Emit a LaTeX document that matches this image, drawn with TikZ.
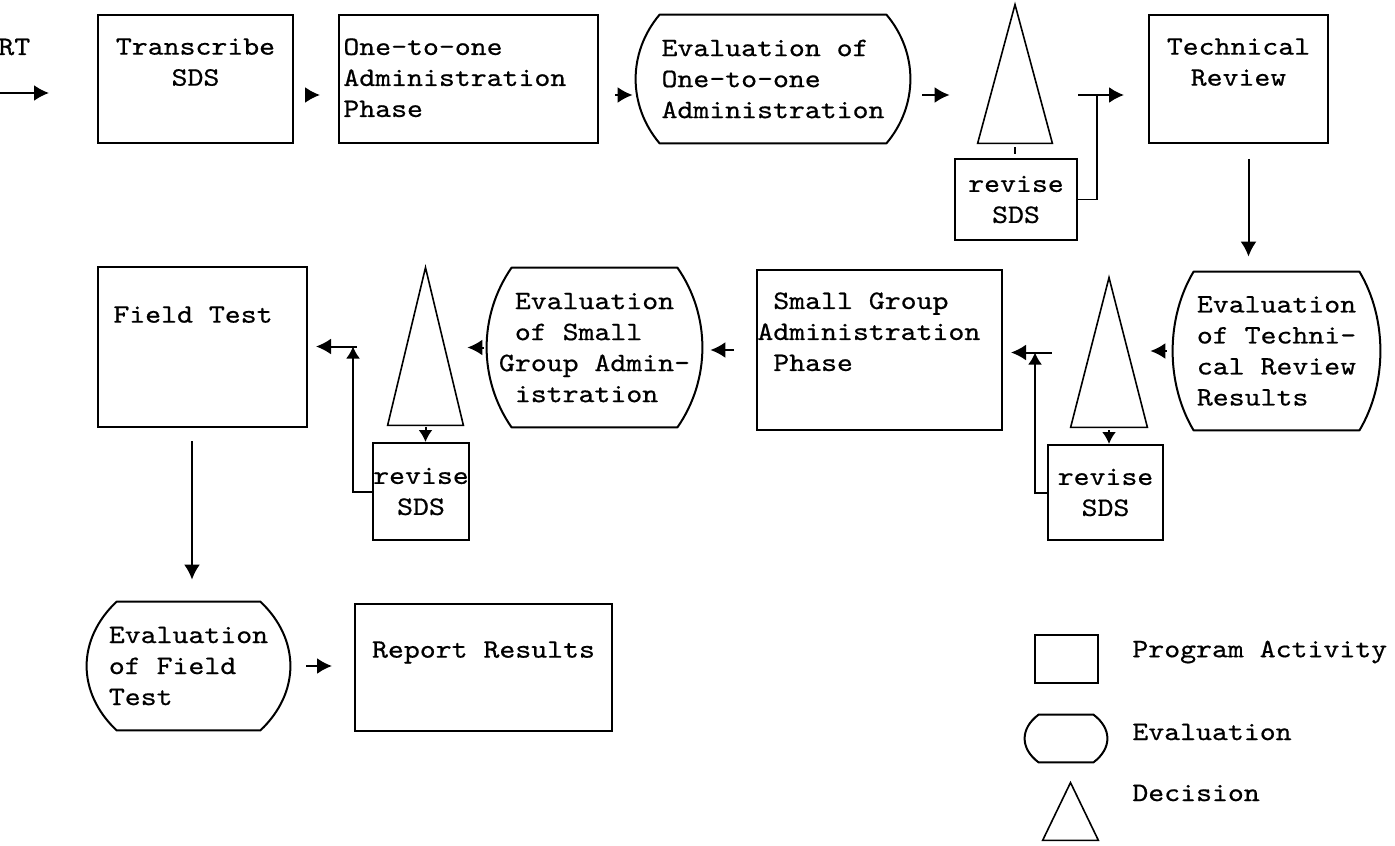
\documentclass[tikz,border=0pt]{standalone}
\usepackage{fontspec}
\setmonofont{lmmono10-regular}[Extension=.otf,FakeStretch=1.14,FakeBold=0.6]
\usetikzlibrary{positioning,arrows.meta}
\newcommand{\twfont}{\ttfamily\fontsize{13.3}{15.5}\selectfont}

\begin{document}
\begin{tikzpicture}[x=0.5pt, y=-0.5pt,
    box/.style={draw, line width=1pt, inner sep=0pt},
    rev/.style={draw, line width=1pt, inner sep=0pt, font=\twfont, align=center},
    eval/.style={inner sep=0pt, font=\twfont, align=left},
    dec/.style={inner sep=0pt},
    txt/.style={inner sep=0pt, font=\twfont},
    frame/.style={line width=1pt, line join=round},
    tri/.style={line width=0.8pt},
    arr/.style={-{Latex[length=7.5pt,width=8pt]}, line width=1pt},
    sarr/.style={-{Latex[length=6pt,width=7pt]}, line width=1pt}]
  \useasboundingbox (0,0) rectangle (1395,845);

  % first row
  \node[txt, anchor=west] (start) at (-2,47) {RT};
  \coordinate (s0) at (0,93);
  \coordinate (s1) at (49,93);
  \node[box, minimum width=97.5pt, minimum height=64pt] (b1) at (195.5,79) {};
  \node[txt, align=center, below=12pt of b1.north] (b1t) {Transcribe\\SDS};
  \node[box, minimum width=129.5pt, minimum height=64pt] (b2) at (468.5,79) {};
  \node[txt, align=left, below right=12pt and 2.5pt of b2.north west] (b2t) {One-to-one\\Administration\\Phase};
  \node[eval, minimum width=137pt, minimum height=64pt] (e1) at (773,79) {Evaluation of\\One-to-one\\Administration};
  \node[dec, minimum width=37pt, minimum height=69pt] (t1) at (1015,74) {};
  \node[rev, minimum width=61pt, minimum height=40.5pt] (r1) at (1016,199.5) {revise\\SDS};
  \coordinate (j1) at (1097,95);
  \node[box, minimum width=89.5pt, minimum height=64pt] (b3) at (1238.5,79) {};
  \node[txt, align=center, below=12pt of b3.north] (b3t) {Technical\\Review};

  % second row
  \node[eval, minimum width=103.5pt, minimum height=79pt] (e2) at (1276.5,351) {Evaluation\\of Techni-\\cal Review\\Results};
  \node[dec, minimum width=38pt, minimum height=74.5pt] (t3) at (1109,352.5) {};
  \node[rev, minimum width=57.5pt, minimum height=47.5pt] (r3) at (1105.5,492.5) {revise\\SDS};
  \coordinate (j3) at (1035,352.5);
  \node[box, minimum width=122.5pt, minimum height=80pt] (b4) at (879.5,350) {};
  \node[txt, align=left, below right=11.5pt and 0.5pt of b4.north west] (b4t) {\phantom{S}Small Group\\Administration\\\phantom{S}Phase};
  \node[eval, minimum width=107.5pt, minimum height=79.5pt] (e3) at (594.5,347.5) {\phantom{G}Evaluation\\\phantom{G}of Small\\Group Admin-\\\phantom{G}istration};
  \node[dec, minimum width=37.5pt, minimum height=78.5pt] (t2) at (425.5,346.5) {};
  \node[rev, minimum width=48pt, minimum height=48.5pt] (r2) at (421,491.5) {revise\\SDS};
  \coordinate (j2) at (353,346.5);
  \node[box, minimum width=104.5pt, minimum height=80pt] (b5) at (202.5,347) {};
  \node[txt, below right=20pt and 8pt of b5.north west] (b5t) {Field Test};

  % third row
  \node[eval, minimum width=101.5pt, minimum height=64pt] (e4) at (188.5,666) {Evaluation\\of Field\\Test};
  \node[box, minimum width=128.5pt, minimum height=63.5pt] (b6) at (483.5,667.5) {};
  \node[txt, below=19pt of b6.north] (b6t) {Report Results};

  % legend
  \node[box, minimum width=31.5pt, minimum height=24pt] (lgbox) at (1066.5,659) {};
  \node[eval, minimum width=41pt, minimum height=23.5pt] (lgeval) at (1066,738.5) {};
  \node[dec, minimum width=27.5pt, minimum height=28.5pt] (lgdec) at (1070.5,811.5) {};
  \node[txt, anchor=west] (lgboxt) at (1132,652) {Program Activity};
  \node[txt, anchor=west] (lgevalt) at (1132,732) {Evaluation};
  \node[txt, anchor=west] (lgdect) at (1132,793) {Decision};

  % evaluation frames (inset d, control offset v, in px)
  \foreach \e/\d/\v in {e1/24/38, e2/21/47, e3/25/48, e4/30/38, lgeval/14/14}
    \draw[frame] ([shift={(\d,0)}]\e.north west) -- ([shift={(-\d,0)}]\e.north east)
      .. controls ([shift={(\d/3,\v)}]\e.north east) and ([shift={(\d/3,-\v)}]\e.south east)
      .. ([shift={(-\d,0)}]\e.south east) -- ([shift={(\d,0)}]\e.south west)
      .. controls ([shift={(-\d/3,-\v)}]\e.south west) and ([shift={(-\d/3,\v)}]\e.north west)
      .. cycle;

  % decision triangles
  \foreach \t in {t1,t2,t3,lgdec}
    \draw[tri] (\t.south west) -- (\t.north) -- (\t.south east) -- cycle;

  % connectors
  \draw[arr] (s0) -- (s1);
  \draw[arr, shorten <=6.5pt, shorten >=9pt] ([yshift=-8pt]b1.east) -- ([yshift=-8pt]b2.west);
  \draw[arr, shorten <=8pt, shorten >=1.5pt] ([yshift=-8pt]b2.east) -- ([yshift=-8pt]b2.east -| e1.west);
  \draw[arr, shorten <=6pt, shorten >=14pt] ([yshift=-8pt]e1.east) -- ([yshift=-8pt]e1.east -| t1.west);
  \draw[arr, shorten <=13pt, shorten >=12pt] (j1 -| t1.east) -- (j1 -| b3.west);
  \draw[line width=0.8pt, shorten <=2pt, shorten >=2pt] (t1.south) -- (t1.south |- r1.north);
  \draw[line width=0.8pt] (r1.east) -| (j1);
  \draw[arr, shorten <=7.5pt, shorten >=7.5pt] ([xshift=5pt]b3.south) -- ([xshift=5pt]b3.south |- e2.north);

  \draw[arr, shorten <=3pt, shorten >=1.5pt] (e2.west) -- (e2.west -| t3.east);
  \draw[sarr, shorten <=1.5pt] (t3.south) -- (t3.south |- r3.north);
  \draw[sarr] (r3.west) -| (j3);
  \draw[arr, shorten <=9.5pt, shorten >=4pt] (t3.west) -- (t3.west -| b4.east);
  \draw[arr, shorten <=11pt, shorten >=4pt] (b4.west) -- (b4.west -| e3.east);
  \draw[arr, shorten <=1.5pt, shorten >=2pt] (e3.west) -- (e3.west -| t2.east);
  \draw[sarr, shorten <=1pt] (t2.south) -- (t2.south |- r2.north);
  \draw[sarr] (r2.west) -| (j2);
  \draw[arr, shorten <=15.5pt, shorten >=4pt] (t2.west) -- (t2.west -| b5.east);
  \draw[arr, shorten <=6.5pt, shorten >=11pt] ([xshift=-5.25pt]b5.south) -- ([xshift=-5.25pt]b5.south |- e4.north);
  \draw[arr, shorten <=8pt, shorten >=11pt] (e4.east) -- (e4.east -| b6.west);
\end{tikzpicture}
\end{document}
